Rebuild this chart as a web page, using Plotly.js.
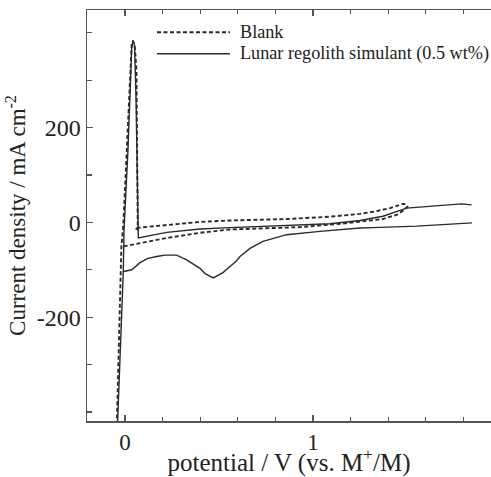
<!DOCTYPE html>
<html><head><meta charset="utf-8">
<script src="https://cdn.plot.ly/plotly-3.0.1.min.js"></script>
<style>html,body{margin:0;padding:0;background:#fff}</style>
</head><body><div id="chart" style="width:491px;height:477px"></div>
<script>
// Series names
const seriesNames = ['Blank', 'Lunar regolith simulant (0.5 wt%)'];

// Blank (dashed) CV loop
const blankX = [-0.046, -0.043, -0.019, -0.009, 0.011, 0.036, 0.043, 0.053, 0.061, 0.066, 0.068,
  0.053, 0.222, 0.399, 0.559, 0.860, 1.090, 1.250, 1.330, 1.410, 1.479, 1.495, 1.503,
  1.484, 1.445, 1.372, 1.250, 1.144, 0.931, 0.718, 0.559, 0.399, 0.222, 0.000, -0.019];
const blankY = [-468, -419, -50, -8, 153, 378, 383, 368, 321, 153, -15,
  -12, -5, 1, 4, 7, 12, 18, 23, 30, 39, 38, 33,
  26, 16, 7, 1.5, -3, -10, -13, -15, -22, -33, -50, -50];

// Lunar regolith simulant (solid) CV: upper part, gap, lower return branch
const lunarX = [-0.042, -0.039, -0.009, -0.005, 0.016, 0.036, 0.043, 0.051, 0.059, 0.066, 0.071,
  0.222, 0.399, 0.559, 0.878, 1.090, 1.250, 1.372, 1.498, 1.638, 1.729, 1.790, 1.844,
  null,
  1.846, 1.552, 1.319, 1.250, 1.037, 0.860, 0.734, 0.665, 0.612, 0.594, 0.559, 0.521, 0.470,
  0.426, 0.399, 0.328, 0.275, 0.213, 0.169, 0.122, 0.080, 0.036, 0.000, -0.009];
const lunarY = [-468, -419, -104, -15, 153, 368, 383, 374, 258, 90, -33,
  -21, -14, -11, -7, -3, 4, 13, 30, 35, 38, 39, 37,
  null,
  -1, -8, -11, -12, -19, -26, -40, -55, -72, -81, -93, -106, -117,
  -108, -97, -79, -69, -69, -72, -76, -85, -100, -103, -104];

// Tick labels
const xTickVals = [0, 1];
const xTickText = ['0', '1'];
const yTickVals = [-200, 0, 200];
const yTickText = ['-200', '0', '200'];

const ink = '#2a2a2a';
const axisCol = '#555';
const dashPat = '4px,2.5px';

const traces = [
  {x: blankX, y: blankY, mode: 'lines', name: seriesNames[0],
   line: {color: ink, width: 1.9, dash: dashPat}, connectgaps: false, showlegend: false},
  {x: lunarX, y: lunarY, mode: 'lines', name: seriesNames[1],
   line: {color: ink, width: 1.4}, connectgaps: false, showlegend: false}
];

const L = 87, R = 491, T = 10, B = 421;
const px2paperX = p => (p - L) / (R - L);
const px2paperY = p => (B - p) / (B - T);

const layout = {
  width: 491, height: 477,
  margin: {l: 87, r: 0, t: 10, b: 56},
  paper_bgcolor: '#fff', plot_bgcolor: '#fff',
  font: {family: 'Liberation Serif, Times New Roman, serif', color: '#222', size: 23},
  showlegend: false,
  xaxis: {
    range: [-0.202, 1.947], showgrid: false, zeroline: false,
    showline: true, linecolor: axisCol, linewidth: 1.5, mirror: 'ticks',
    ticks: 'inside', ticklen: 6, tickwidth: 1.2, tickcolor: axisCol,
    tickmode: 'array', tickvals: xTickVals, ticktext: xTickText,
    minor: {tick0: 0, dtick: 0.2, ticks: 'inside', ticklen: 4, tickwidth: 1.2, tickcolor: axisCol},
    tickfont: {size: 23},
    title: {text: 'potential / V (vs. M<sup>+</sup>/M)', font: {size: 25}, standoff: 11}
  },
  yaxis: {
    range: [-419, 448], showgrid: false, zeroline: false,
    showline: true, linecolor: axisCol, linewidth: 1.5, mirror: false,
    ticks: 'inside', ticklen: 6, tickwidth: 1.2, tickcolor: axisCol,
    tickmode: 'array', tickvals: yTickVals, ticktext: yTickText,
    minor: {tick0: 0, dtick: 100, ticks: 'inside', ticklen: 5, tickwidth: 1.2, tickcolor: axisCol},
    tickfont: {size: 24},
    title: {text: 'Current density / mA cm<sup>-2</sup>', font: {size: 23}, standoff: 4}
  },
  shapes: [
    {type: 'line', xref: 'paper', yref: 'paper', x0: px2paperX(157), x1: px2paperX(230),
     y0: px2paperY(32.3), y1: px2paperY(32.3), line: {color: ink, width: 1.9, dash: dashPat}},
    {type: 'line', xref: 'paper', yref: 'paper', x0: px2paperX(157), x1: px2paperX(230),
     y0: px2paperY(53.7), y1: px2paperY(53.7), line: {color: ink, width: 1.4}}
  ],
  annotations: [
    {xref: 'paper', yref: 'paper', x: px2paperX(238), y: px2paperY(32.3), xanchor: 'left', yanchor: 'middle',
     text: seriesNames[0], showarrow: false, font: {size: 18.2, color: '#222'}},
    {xref: 'paper', yref: 'paper', x: px2paperX(238), y: px2paperY(53.7), xanchor: 'left', yanchor: 'middle',
     text: seriesNames[1], showarrow: false, font: {size: 18.2, color: '#222'}}
  ]
};

Plotly.newPlot('chart', traces, layout, {displayModeBar: false, staticPlot: true});
</script>
</body></html>
